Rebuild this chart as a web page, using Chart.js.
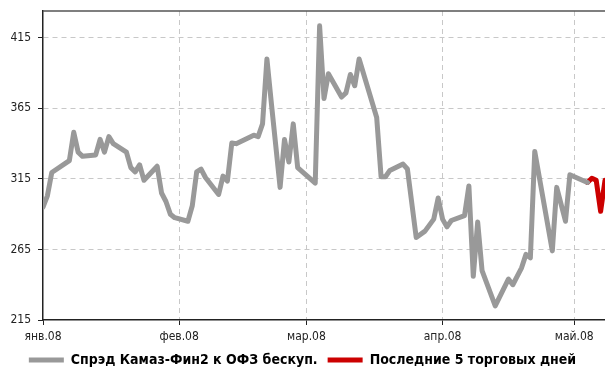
<!DOCTYPE html>
<html>
<head>
<meta charset="utf-8">
<script src="https://cdn.jsdelivr.net/npm/chart.js@4"></script>
<style>
    body { margin: 0; background: #ffffff; }
    #caixa { width: 605px; height: 371px; position: relative; }
</style>
</head>
<body>
<div id="caixa"><canvas id="grafico_spread"></canvas></div>
<script>
// dias desde 1 jan 2008 e valores do spread
var dias_spread = [0, 1, 2, 6, 7, 8, 9, 12, 13, 14, 15, 16, 19, 20, 21, 22, 23, 26, 27, 28, 29, 30,
    33, 34, 35, 36, 37, 40, 41, 42, 43, 44, 48, 49, 50, 51, 52, 54, 55, 56, 57, 58,
    62, 63, 64, 65, 68, 69, 70, 71, 72, 76, 77, 78, 79, 82, 83, 85, 87, 89, 90, 91, 92, 93,
    96, 97, 98, 99, 100, 103, 106, 107, 109, 110, 111, 112, 116, 117, 119, 120, 124];
var valores_spread = [295, 303, 319.5, 328, 348, 334, 331, 332, 343, 334, 345, 340, 334, 323, 320, 325, 314, 324, 305, 299, 290, 287.5,
    285, 296, 320, 322, 316, 304, 317, 313.5, 340.5, 340, 346, 345, 354, 400, 369, 309, 343, 327, 354, 323,
    312, 423.5, 372, 389.5, 373, 376, 389, 381, 400, 358.5, 316.5, 316.5, 321, 325.5, 322, 273.5, 278, 286.5, 301.5, 286.5, 281, 285.5,
    289, 310, 246, 284.5, 250, 225, 244, 240, 252, 261.5, 259, 334.5, 264, 309, 285, 318, 312.5];

// ultimos 5 dias
var dias_ultimos = [124, 125, 126, 127, 128];
var valores_ultimos = [312.5, 315.5, 314, 292, 314];

var nomes_series = ['Спрэд Камаз-Фин2 к ОФЗ бескуп.', 'Последние 5 торговых дней'];

var meses_dias = [0, 31, 60, 91, 121];
var meses_nomes = ['янв.08', 'фев.08', 'мар.08', 'апр.08', 'май.08'];
var ticks_y = [215, 265, 315, 365, 415];

var fonte = "'Liberation Sans Narrow', 'Arial Narrow', 'DejaVu Sans Condensed', sans-serif";

function juntarPontos(xs, ys) {
    var pontos = [];
    for (var i = 0; i < xs.length; i++) {
        pontos.push({ x: xs[i], y: ys[i] });
    }
    return pontos;
}

// linha de cima da area do grafico
var moldura = {
    id: 'moldura',
    afterDraw: function (chart) {
        var ctx = chart.ctx;
        var area = chart.chartArea;
        ctx.save();
        ctx.strokeStyle = '#555555';
        ctx.lineWidth = 1.5;
        ctx.beginPath();
        ctx.moveTo(area.left, area.top);
        ctx.lineTo(area.right, area.top);
        ctx.stroke();
        ctx.restore();
    }
};

const ctxSpread = document.getElementById('grafico_spread');

new Chart(ctxSpread, {
    type: 'line',
    data: {
        datasets: [{
            label: nomes_series[0],
            data: juntarPontos(dias_spread, valores_spread),
            borderColor: '#999999',
            backgroundColor: '#999999',
            borderWidth: 5,
            borderCapStyle: 'round',
            borderJoinStyle: 'round',
            pointRadius: 0,
            tension: 0
        }, {
            label: nomes_series[1],
            data: juntarPontos(dias_ultimos, valores_ultimos),
            borderColor: '#cc0000',
            backgroundColor: '#cc0000',
            borderWidth: 5,
            borderCapStyle: 'round',
            borderJoinStyle: 'round',
            pointRadius: 0,
            tension: 0
        }]
    },
    options: {
        responsive: true,
        maintainAspectRatio: false,
        animation: false,
        layout: {
            padding: { top: 11, right: 0, left: 0, bottom: 0 }
        },
        scales: {
            x: {
                type: 'linear',
                min: 0,
                max: 128,
                afterBuildTicks: function (scale) {
                    scale.ticks = meses_dias.map(function (d) { return { value: d }; });
                },
                afterFit: function (scale) {
                    scale.height = 23;
                    scale.paddingLeft = 0;
                    scale.paddingRight = 0;
                },
                ticks: {
                    color: '#222222',
                    padding: 5,
                    maxRotation: 0,
                    autoSkip: false,
                    font: { family: fonte, size: 12 },
                    callback: function (valor) {
                        var i = meses_dias.indexOf(valor);
                        return i >= 0 ? meses_nomes[i] : '';
                    }
                },
                grid: {
                    color: function (c) { return c.index === 0 ? 'rgba(0,0,0,0)' : '#c8c8c8'; },
                    lineWidth: 1,
                    tickColor: '#222222',
                    tickLength: 5,
                    tickWidth: 1
                },
                border: {
                    color: '#222222',
                    width: 1.5,
                    dash: [5, 4]
                }
            },
            y: {
                min: 215,
                max: 434,
                afterBuildTicks: function (scale) {
                    scale.ticks = ticks_y.map(function (v) { return { value: v }; });
                },
                afterFit: function (scale) {
                    scale.width = 43;
                    scale.paddingTop = 0;
                    scale.paddingBottom = 0;
                },
                ticks: {
                    color: '#222222',
                    padding: 7,
                    font: { family: fonte, size: 12 }
                },
                grid: {
                    color: function (c) { return c.index === 0 ? 'rgba(0,0,0,0)' : '#c8c8c8'; },
                    lineWidth: 1,
                    tickColor: '#222222',
                    tickLength: 5,
                    tickWidth: 1
                },
                border: {
                    color: '#222222',
                    width: 1.5,
                    dash: [5, 4]
                }
            }
        },
        plugins: {
            legend: {
                position: 'bottom',
                maxHeight: 28,
                labels: {
                    color: '#000000',
                    usePointStyle: true,
                    pointStyle: 'line',
                    pointStyleWidth: 35,
                    padding: 10,
                    font: { family: fonte, size: 14, weight: 'bold' }
                }
            },
            tooltip: { enabled: false }
        }
    },
    plugins: [moldura]
});
</script>
</body>
</html>
